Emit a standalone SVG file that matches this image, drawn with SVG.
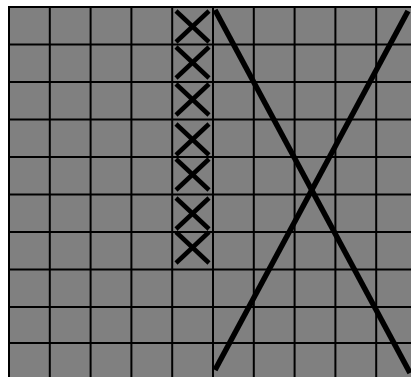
<svg xmlns="http://www.w3.org/2000/svg" width="411" height="377" viewBox="0 0 411 377">
<style>
.bg{fill:#ffffff}
.board{fill:#808080;stroke:#000;stroke-width:2}
.grid line{stroke:#000;stroke-width:2}
.x line{stroke:#000;stroke-width:4.5;stroke-linecap:butt}
.big line{stroke:#000;stroke-width:5.5;stroke-linecap:butt}
</style>
<rect class="bg" x="0" y="0" width="411" height="377"/>
<rect class="board" x="9" y="7" width="420" height="380"/>
<g class="grid">
<line x1="49.8" y1="7" x2="49.8" y2="377"/>
<line x1="90.6" y1="7" x2="90.6" y2="377"/>
<line x1="131.4" y1="7" x2="131.4" y2="377"/>
<line x1="172.2" y1="7" x2="172.2" y2="377"/>
<line x1="213" y1="7" x2="213" y2="377"/>
<line x1="253.8" y1="7" x2="253.8" y2="377"/>
<line x1="294.6" y1="7" x2="294.6" y2="377"/>
<line x1="335.4" y1="7" x2="335.4" y2="377"/>
<line x1="376.2" y1="7" x2="376.2" y2="377"/>
<line x1="9" y1="44.5" x2="411" y2="44.5"/>
<line x1="9" y1="82" x2="411" y2="82"/>
<line x1="9" y1="119.5" x2="411" y2="119.5"/>
<line x1="9" y1="157" x2="411" y2="157"/>
<line x1="9" y1="194.5" x2="411" y2="194.5"/>
<line x1="9" y1="232" x2="411" y2="232"/>
<line x1="9" y1="269.5" x2="411" y2="269.5"/>
<line x1="9" y1="307" x2="411" y2="307"/>
<line x1="9" y1="343" x2="411" y2="343"/>
</g>
<g class="x">
<line x1="176" y1="11" x2="209" y2="42"/><line x1="209" y1="11" x2="176" y2="42"/>
<line x1="176" y1="47" x2="209" y2="78"/><line x1="209" y1="47" x2="176" y2="78"/>
<line x1="176" y1="84" x2="209" y2="115"/><line x1="209" y1="84" x2="176" y2="115"/>
<line x1="176" y1="124" x2="209" y2="155"/><line x1="209" y1="124" x2="176" y2="155"/>
<line x1="176" y1="159" x2="209" y2="190"/><line x1="209" y1="159" x2="176" y2="190"/>
<line x1="176" y1="198" x2="209" y2="229"/><line x1="209" y1="198" x2="176" y2="229"/>
<line x1="176" y1="232" x2="209" y2="263"/><line x1="209" y1="232" x2="176" y2="263"/>
</g>
<g class="big">
<line x1="215" y1="10" x2="410" y2="373"/>
<line x1="408" y1="11" x2="215" y2="370"/>
</g>
</svg>
